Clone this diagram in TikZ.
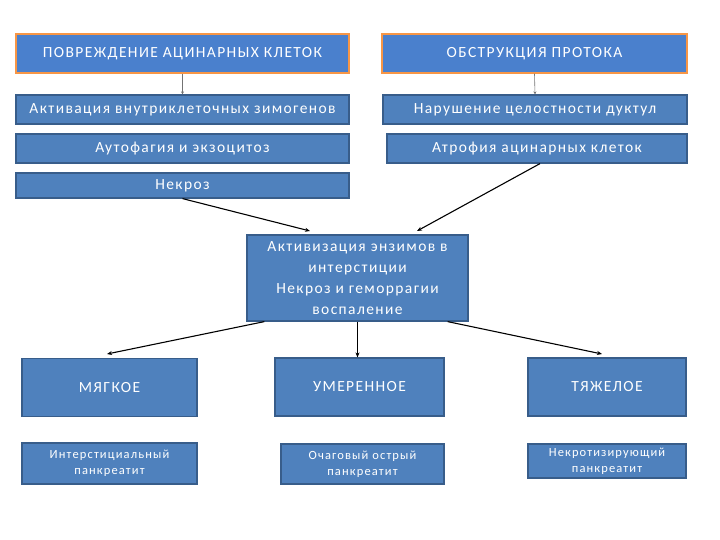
\documentclass[tikz,border=0pt]{standalone}
\usepackage{fontspec}
\setmainfont{Carlito}[LetterSpace=9]
\usetikzlibrary{arrows.meta,calc}
\definecolor{topfill}{RGB}{74,128,205}
\definecolor{boxfill}{RGB}{79,129,189}
\definecolor{boxline}{RGB}{56,93,138}
\definecolor{orangeline}{RGB}{247,150,70}
\tikzset{
  topbox/.style={draw=orangeline, line width=1.5pt, fill=topfill, text=white, inner sep=0pt, font=\fontsize{15.5}{17}\selectfont},
  bluebox/.style={draw=boxline, line width=1.2pt, fill=boxfill, text=white, inner sep=0pt, font=\fontsize{15.5}{17}\selectfont},
  smallbox/.style={bluebox, font=\fontsize{12.5}{16}\selectfont, align=center},
  thinarr/.style={draw=black!55, line width=0.6pt, -{Stealth[length=3pt,width=3pt]}},
  arr/.style={draw=black, line width=1.1pt, -{Stealth[length=5pt,width=4pt]}},
}
\begin{document}
\begin{tikzpicture}[x=1pt,y=-1pt]
\useasboundingbox (0,0) rectangle (720,540);
\node[topbox, minimum width=333pt, minimum height=39pt] (inj) at (182.5,53.5) {ПОВРЕЖДЕНИЕ АЦИНАРНЫХ КЛЕТОК};
\node[topbox, minimum width=305pt, minimum height=39pt] (obs) at (534.5,53.5) {ОБСТРУКЦИЯ ПРОТОКА};
\node[bluebox, minimum width=333pt, minimum height=29pt] (act) at (182.5,109.5) {Активация внутриклеточных зимогенов};
\node[bluebox, minimum width=304pt, minimum height=29pt] (duct) at (535,109.5) {Нарушение целостности дуктул};
\node[bluebox, minimum width=333pt, minimum height=29pt] (auto) at (182.5,148.5) {Аутофагия и экзоцитоз};
\node[bluebox, minimum width=300pt, minimum height=29pt] (atr) at (537,148.5) {Атрофия ацинарных клеток};
\node[bluebox, minimum width=333pt, minimum height=25pt] (nec) at (182.5,185.5) {Некроз};
\node[bluebox, minimum width=221pt, minimum height=86pt, align=center, font=\fontsize{15.5}{21}\selectfont] (cen) at (357.5,278) {Активизация энзимов в\\интерстиции\\Некроз и геморрагии\\воспаление};
\node[bluebox, minimum width=175pt, minimum height=58pt] (mild) at (109.5,387.5) {МЯГКОЕ};
\node[bluebox, minimum width=169pt, minimum height=58pt] (mod) at (359.5,387) {УМЕРЕННОЕ};
\node[bluebox, minimum width=158pt, minimum height=58pt] (sev) at (607,387) {ТЯЖЕЛОЕ};
\node[smallbox, minimum width=175pt, minimum height=41pt] (inter) at (109.5,463.5) {Интерстициальный\\панкреатит};
\node[smallbox, minimum width=163pt, minimum height=40pt] (foc) at (362.5,464) {Очаговый острый\\панкреатит};
\node[smallbox, minimum width=158pt, minimum height=34pt] (necp) at (607,461) {Некротизирующий\\панкреатит};
\coordinate (e1) at (310,231);
\coordinate (e2) at (417,231);
\coordinate (e3) at (107,354);
\coordinate (e4) at (602,354);
\draw[thinarr] (inj.south) -- (act.north);
\draw[thinarr] (obs.south) -- (duct.north);
\draw[arr] (nec.south) -- (e1);
\draw[arr] ($(atr.south)+(3,0)$) -- (e2);
\draw[arr] ($(cen.south west)+(18,0)$) -- (e3);
\draw[arr] (cen.south) -- (cen.south |- mod.north);
\draw[arr] ($(cen.south east)+(-21,0)$) -- (e4);
\end{tikzpicture}
\end{document}
